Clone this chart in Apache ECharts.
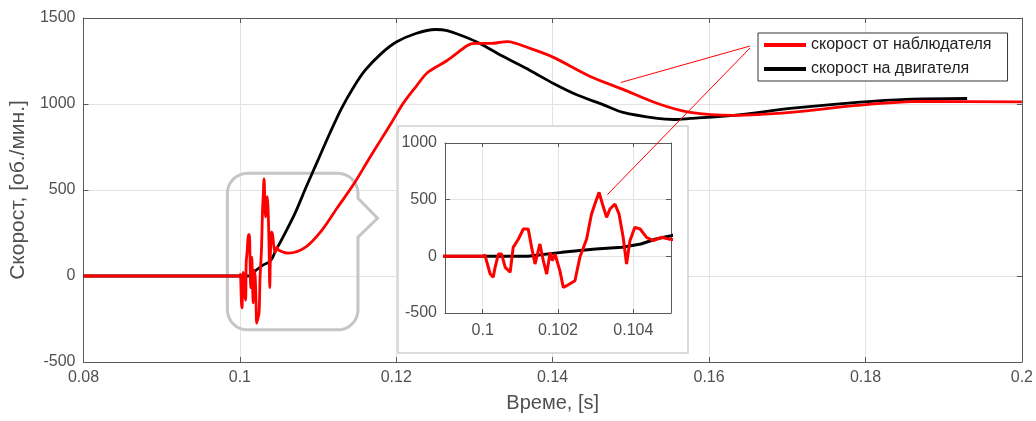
<!DOCTYPE html>
<html>
<head>
<meta charset="utf-8">
<script src="https://cdn.jsdelivr.net/npm/echarts@6/dist/echarts.min.js"></script>
<style>
html, body { margin: 0; padding: 0; background: #fff; }
#main { width: 1036px; height: 421px; }
</style>
</head>
<body>
<div id="main"></div>
<script>
// скорост от наблюдателя (observer) - time [s] / value [об./мин.]
var tRed = [0.08, 0.1, 0.10006, 0.1002, 0.10028, 0.10033, 0.10042, 0.1005, 0.1006, 0.10073,
  0.10081, 0.10095, 0.10108, 0.10121, 0.1013, 0.10139, 0.10152, 0.10161, 0.1017, 0.10179,
  0.10185, 0.10192, 0.10205, 0.10214, 0.10223, 0.10245, 0.10258, 0.10276, 0.10289, 0.10298,
  0.10309, 0.10318, 0.10329, 0.10338, 0.10351, 0.10362, 0.10373, 0.10382, 0.10391, 0.10404,
  0.10418, 0.10435, 0.10453, 0.10475, 0.10497, 0.1062, 0.1084, 0.1105, 0.1125, 0.1145,
  0.1165, 0.118, 0.1195, 0.1209, 0.1225, 0.124, 0.1265, 0.1291, 0.130, 0.132,
  0.1342, 0.1371, 0.1401, 0.1448, 0.149, 0.1534, 0.1576, 0.1631, 0.1704, 0.1789,
  0.1873, 0.2];
var vRed = [0, 0, 10, -156, -185, -97, 21, 21, -97, -141,
  79, 153, 241, 241, 79, -68, 109, -38, -156, 35,
  -38, 21, -126, -274, -259, -215, -9, 153, 374, 462,
  565, 462, 344, 418, 462, 374, 168, -68, 138, 256,
  241, 168, 138, 168, 150, 133, 168, 267, 400, 530,
  680, 790, 900, 1005, 1100, 1183, 1253, 1340, 1352, 1352,
  1363, 1323, 1271, 1160, 1085, 1003, 951, 934, 951, 992,
  1015, 1012];

// скорост на двигателя (motor)
var tBlack = [0.08, 0.1, 0.1012, 0.1021, 0.103, 0.1037, 0.1042, 0.1046, 0.105, 0.107,
  0.1085, 0.110, 0.1115, 0.113, 0.1145, 0.116, 0.118, 0.120, 0.1225, 0.125,
  0.1265, 0.1285, 0.1307, 0.1335, 0.1371, 0.1401, 0.143, 0.1465, 0.149, 0.1534,
  0.1555, 0.1576, 0.1631, 0.1704, 0.1789, 0.1853, 0.193];
var vBlack = [0, 0, 0, 35, 65, 80, 109, 153, 182, 360,
  520, 675, 830, 975, 1095, 1195, 1290, 1360, 1410, 1433,
  1427, 1395, 1352, 1280, 1195, 1119, 1055, 995, 951, 916,
  910, 916, 934, 974, 1009, 1027, 1032];

var seriesNames = ['скорост от наблюдателя', 'скорост на двигателя'];
var insetXTicks = [0.1, 0.102, 0.104];

var pairs = function(t, v) {
  for (var out = [], i = 0; i < t.length; i++) out.push([t[i], v[i]]);
  return out;
};
var redData = pairs(tRed, vRed), blackData = pairs(tBlack, vBlack);

var FONT = 'Liberation Sans';
var AX = '#5a5a5a', LBL = '#505050', GRIDC = '#e3e3e3';
var fmt = function(v) { return String(+v.toFixed(4)); };

var boxAxis = function(extra) {
  var a = {
    axisLine: { show: true, onZero: false, lineStyle: { color: AX, width: 1 } },
    axisTick: { show: true, inside: true, length: 5, lineStyle: { color: AX } },
    splitLine: { show: false },
    axisLabel: { show: false }
  };
  for (var k in extra) a[k] = extra[k];
  return a;
};

var chart = echarts.init(document.getElementById('main'));
var option = {
  animation: false,
  backgroundColor: '#fff',
  textStyle: { fontFamily: FONT },
  grid: [
    { left: 83, right: 14, top: 18, bottom: 59 },
    { left: 445, top: 143, width: 226, height: 170 }
  ],
  legend: {
    data: seriesNames,
    orient: 'vertical',
    left: 758, top: 33,
    icon: 'rect', itemWidth: 42, itemHeight: 4, itemGap: 8,
    padding: [4, 16, 4, 6],
    borderColor: '#333', borderWidth: 1, backgroundColor: '#fff',
    textStyle: { fontFamily: FONT, fontSize: 16, color: '#222' },
    z: 30
  },
  xAxis: [
    boxAxis({ type: 'value', gridIndex: 0, min: 0.08, max: 0.2, interval: 0.02, position: 'bottom',
      splitLine: { show: true, lineStyle: { color: GRIDC } },
      axisLabel: { show: true, color: LBL, fontSize: 16, margin: 8, formatter: fmt },
      name: 'Време, [s]', nameLocation: 'middle', nameGap: 31,
      nameTextStyle: { color: LBL, fontSize: 20, fontFamily: FONT } }),
    boxAxis({ type: 'value', gridIndex: 0, min: 0.08, max: 0.2, interval: 0.02, position: 'top' }),
    boxAxis({ type: 'value', gridIndex: 1, min: 0.099, max: 0.105, position: 'bottom', z: 15,
      splitLine: { show: true, lineStyle: { color: GRIDC } },
      axisTick: { show: true, inside: true, length: 4, lineStyle: { color: AX }, customValues: insetXTicks },
      axisLabel: { show: true, color: LBL, fontSize: 16, margin: 10, formatter: fmt, customValues: insetXTicks } }),
    boxAxis({ type: 'value', gridIndex: 1, min: 0.099, max: 0.105, position: 'top', z: 15,
      axisTick: { show: true, inside: true, length: 4, lineStyle: { color: AX }, customValues: insetXTicks } })
  ],
  yAxis: [
    boxAxis({ type: 'value', gridIndex: 0, min: -500, max: 1500, interval: 500, position: 'left',
      splitLine: { show: true, lineStyle: { color: GRIDC } },
      axisLabel: { show: true, color: LBL, fontSize: 16, margin: 8, formatter: String },
      name: 'Скорост, [об./мин.]', nameLocation: 'middle', nameGap: 52,
      nameTextStyle: { color: LBL, fontSize: 21, fontFamily: FONT } }),
    boxAxis({ type: 'value', gridIndex: 0, min: -500, max: 1500, interval: 500, position: 'right' }),
    boxAxis({ type: 'value', gridIndex: 1, min: -500, max: 1000, interval: 500, position: 'left', z: 15,
      splitLine: { show: true, lineStyle: { color: GRIDC } },
      axisLabel: { show: true, color: LBL, fontSize: 16, margin: 8, formatter: String } }),
    boxAxis({ type: 'value', gridIndex: 1, min: -500, max: 1000, interval: 500, position: 'right', z: 15 })
  ],
  series: [
    { name: seriesNames[1], type: 'line', xAxisIndex: 0, yAxisIndex: 0, data: blackData,
      smooth: 0.3, showSymbol: false, symbol: 'none',
      lineStyle: { color: '#000', width: 2.8 }, itemStyle: { color: '#000' }, z: 2 },
    { name: seriesNames[0], type: 'line', xAxisIndex: 0, yAxisIndex: 0, data: redData,
      smooth: 0.3, showSymbol: false, symbol: 'none',
      lineStyle: { color: '#ff0000', width: 2.8 }, itemStyle: { color: '#ff0000' }, z: 3 },
    { name: seriesNames[1], type: 'line', xAxisIndex: 2, yAxisIndex: 2, data: blackData,
      showSymbol: false, symbol: 'none', lineStyle: { color: '#000', width: 3 }, itemStyle: { color: '#000' }, z: 20 },
    { name: seriesNames[0], type: 'line', xAxisIndex: 2, yAxisIndex: 2, data: redData,
      showSymbol: false, symbol: 'none', lineStyle: { color: '#ff0000', width: 3 }, itemStyle: { color: '#ff0000' }, z: 21 }
  ]
};
chart.setOption(option);

// callout, inset frame and pointer lines
var px = function(g, p) { return chart.convertToPixel({ gridIndex: g }, p); };
var tl = px(0, [0.0984, 597]), br = px(0, [0.1151, -313]);
var tip = px(0, [0.1176, 336]), b1 = px(0, [0.1151, 452]), b2 = px(0, [0.1151, 226]);
var L = tl[0], T = tl[1], R = br[0], B = br[1], r = 20;
var pts = [];
var arc = function(cx, cy, a0, a1) {
  for (var i = 0; i <= 8; i++) {
    var a = a0 + (a1 - a0) * i / 8;
    pts.push([cx + r * Math.cos(a), cy + r * Math.sin(a)]);
  }
};
arc(R - r, T + r, -Math.PI / 2, 0);
pts.push([R, b1[1]], [tip[0], tip[1]], [R, b2[1]]);
arc(R - r, B - r, 0, Math.PI / 2);
arc(L + r, B - r, Math.PI / 2, Math.PI);
arc(L + r, T + r, Math.PI, Math.PI * 1.5);

var p1 = px(0, [0.1487, 1125]), p2 = px(1, [0.10331, 544]);
var start = [750, 46];
chart.setOption({
  graphic: [
    { type: 'polygon', shape: { points: pts }, style: { fill: null, stroke: '#c6c6c6', lineWidth: 3 }, z: 1 },
    { type: 'rect', shape: { x: 398, y: 126, width: 290, height: 227 },
      style: { fill: '#fff', stroke: '#cfcfcf', lineWidth: 1.5 }, z: 10 },
    { type: 'line', shape: { x1: start[0], y1: start[1], x2: p1[0], y2: p1[1] },
      style: { stroke: '#ff0000', lineWidth: 1 }, z: 40 },
    { type: 'line', shape: { x1: start[0], y1: start[1] + 2, x2: p2[0], y2: p2[1] },
      style: { stroke: '#ff0000', lineWidth: 1 }, z: 40 }
  ]
});
</script>
</body>
</html>
